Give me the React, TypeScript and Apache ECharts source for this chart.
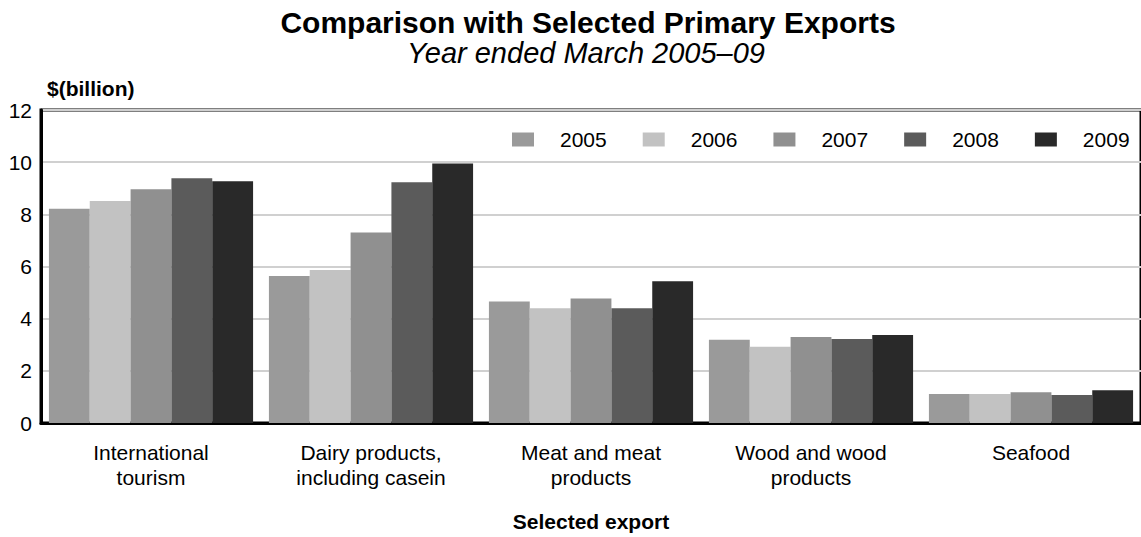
import React, { useEffect, useRef } from "react";
import * as echarts from "echarts";

const categories = [
  "International\ntourism",
  "Dairy products,\nincluding casein",
  "Meat and meat\nproducts",
  "Wood and wood\nproducts",
  "Seafood",
];
const years = ["2005", "2006", "2007", "2008", "2009"];
const values2005 = [8.21, 5.64, 4.66, 3.19, 1.11];
const values2006 = [8.51, 5.87, 4.4, 2.92, 1.11];
const values2007 = [8.96, 7.3, 4.77, 3.3, 1.18];
const values2008 = [9.38, 9.23, 4.4, 3.22, 1.07];
const values2009 = [9.27, 9.95, 5.43, 3.37, 1.26];
const seriesValues = [values2005, values2006, values2007, values2008, values2009];
const colors = ["#9a9a9a", "#c2c2c2", "#909090", "#5b5b5b", "#292929"];

const FONT = "'Liberation Sans', Arial, Helvetica, sans-serif";

export default function App() {
  const ref = useRef<HTMLDivElement>(null);
  useEffect(() => {
    if (!ref.current) return;
    const chart = echarts.init(ref.current, undefined, { renderer: "svg" });
    chart.setOption({
      animation: false,
      textStyle: { fontFamily: FONT, color: "#000" },
      graphic: [
        {
          type: "text",
          x: 588,
          y: 22,
          style: {
            text: "Comparison with Selected Primary Exports",
            font: `bold 30px ${FONT}`,
            fill: "#000",
            align: "center",
            verticalAlign: "middle",
            textAlign: "center",
            textVerticalAlign: "middle",
          },
        },
        {
          type: "text",
          x: 586,
          y: 53,
          style: {
            text: "Year ended March 2005–09",
            font: `italic 29px ${FONT}`,
            fill: "#000",
            align: "center",
            verticalAlign: "middle",
            textAlign: "center",
            textVerticalAlign: "middle",
          },
        },
      ],
      legend: {
        data: years,
        left: 512,
        top: 129,
        padding: 0,
        itemWidth: 22,
        itemHeight: 14,
        itemGap: 36,
        icon: "rect",
        textStyle: { fontSize: 21, color: "#000", fontFamily: FONT, padding: [0, 0, 0, 21] },
      },
      grid: {
        left: 41,
        right: -10,
        top: 110,
        bottom: 109,
        show: true,
        borderColor: "#000",
        borderWidth: 3,
        backgroundColor: "transparent",
      },
      xAxis: {
        type: "category",
        data: categories,
        name: "Selected export",
        nameLocation: "middle",
        nameGap: 88,
        nameTextStyle: { fontWeight: "bold", fontSize: 21, lineHeight: 21, color: "#000", fontFamily: FONT },
        axisLine: { lineStyle: { color: "#000", width: 3 } },
        axisTick: { show: false },
        axisLabel: { fontSize: 21, lineHeight: 25, color: "#000", margin: 17, fontFamily: FONT, interval: 0 },
      },
      yAxis: {
        type: "value",
        min: 0,
        max: 12,
        interval: 2,
        name: "$(billion)",
        nameLocation: "end",
        nameGap: 22,
        nameTextStyle: {
          fontWeight: "bold",
          fontSize: 21,
          color: "#000",
          fontFamily: FONT,
          align: "left",
          verticalAlign: "middle",
          padding: [0, 0, 0, 6],
        },
        axisLine: { show: true, lineStyle: { color: "#000", width: 3 } },
        axisTick: { show: false },
        axisLabel: { fontSize: 21, color: "#000", margin: 9, fontFamily: FONT },
        splitLine: { lineStyle: { color: "#d0d0d0", width: 2 } },
      },
      series: years.map((y, i) => ({
        name: y,
        type: "bar",
        data: seriesValues[i],
        itemStyle: { color: colors[i] },
        barGap: "0%",
        barCategoryGap: "7.2%",
      })),
    });
    return () => chart.dispose();
  }, []);
  return (
    <div
      ref={ref}
      style={{ position: "fixed", left: 0, top: 0, width: 1141, height: 537, background: "#fff" }}
    />
  );
}
